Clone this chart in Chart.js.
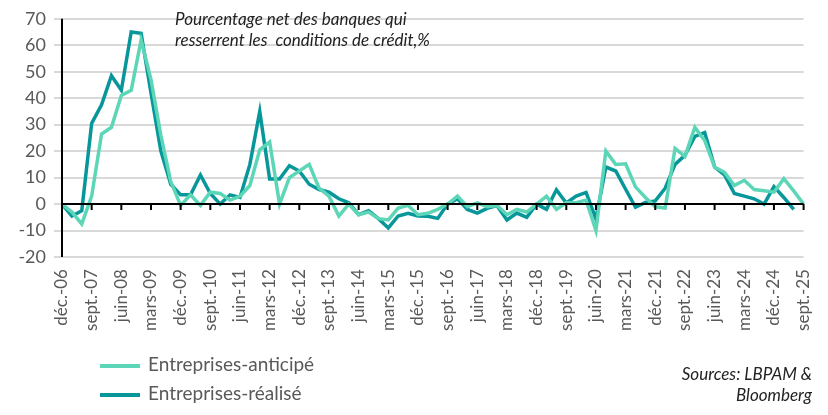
<!DOCTYPE html>
<html><head><meta charset="utf-8">
<script src="https://cdn.jsdelivr.net/npm/chart.js@4"></script>
<style>
body{margin:0;background:#fff;font-family:Lato,"Open Sans",sans-serif}
#w{position:relative;width:828px;height:415px}
.t{position:absolute;font-style:italic;color:#222;font-size:17px;line-height:21px}
.lg{position:absolute;left:100px;font-size:19px;color:#595959}
.lg span{display:inline-block;width:40px;height:4px;vertical-align:middle;margin-right:8px}
</style></head><body>
<div id="w"><canvas id="c" width="828" height="415"></canvas>
<div class="t" style="left:175px;top:8px">Pourcentage net des banques qui<br>resserrent les &nbsp;conditions de crédit,%</div>
<div class="lg" style="top:352px"><span style="background:#5DD6B8"></span>Entreprises-anticipé</div>
<div class="lg" style="top:381px"><span style="background:#07969A"></span>Entreprises-réalisé</div>
<div class="t" style="right:16px;top:363px;text-align:right">Sources: LBPAM &amp;<br>Bloomberg</div>
</div>
<script>
const months=["mars","juin","sept.","déc."];
const categories=[];
for(let i=0;i<76;i++){const q=(3+i)%4;const y=2006+Math.floor((3+i)/4);categories.push(months[q]+"-"+String(y%100).padStart(2,"0"));}
const anticipe=[0,-3,-7.5,3,26.5,29,41,43,62,47,26,8.5,-0.5,3.5,-0.5,4.5,4,1.5,3,7,20.5,23.5,0,10,12.5,15,6,3,-4.5,0,-4,-3,-5.5,-6,-1.5,-0.5,-4,-3.5,-2,0,3,-1,0.5,-1,-0.5,-4,-2,-3,0,3,-2,0.5,0.5,1.5,-10,20,15,15.2,6.5,2.5,-1,-1.5,21,18,29,24,14,12,7,9,5.5,5,4.5,9.6,5,0];
const realise=[0,-4.5,-2.5,30.5,37.5,48.5,43,65,64.5,42,20,7.5,3.5,3.5,11,4,0,3.5,2.5,15,35,9.5,9.5,14.5,12.5,7.5,5.5,4.5,2,0.5,-4,-2.5,-5.5,-9,-4.5,-3.5,-4.5,-4.6,-5.4,0,2,-2,-3.4,-1.6,-0.6,-6,-3.4,-5,0,-2,5.4,0.4,3,4.4,-5.6,14,12.5,5.6,-1.2,0.6,1.2,6,15,18.4,25.6,27,14,11,4,3,2,0,6.6,2.5,-2,null];
const zeroAxis={id:'z',afterDatasetsDraw(ch){const {ctx,scales:{x,y}}=ch;const y0=y.getPixelForValue(0);ctx.save();ctx.strokeStyle='#000';ctx.lineWidth=2;ctx.beginPath();ctx.moveTo(x.left,y0);ctx.lineTo(x.right,y0);for(let i=0;i<categories.length;i+=3){const px=x.getPixelForValue(i);ctx.moveTo(px,y0);ctx.lineTo(px,y0+6);}ctx.moveTo(x.left,y.top);ctx.lineTo(x.left,y.bottom);ctx.stroke();ctx.restore();}};
new Chart(document.getElementById('c'),{type:'line',
data:{labels:categories,datasets:[
{data:anticipe,borderColor:'#5DD6B8',borderWidth:3.5,pointRadius:0,tension:0},
{data:realise,borderColor:'#07969A',borderWidth:3.5,pointRadius:0,tension:0}]},
options:{responsive:false,animation:false,plugins:{legend:{display:false},tooltip:{enabled:false}},
layout:{padding:{left:0,right:4,top:18,bottom:80}},
scales:{x:{offset:false,grid:{display:false},border:{display:false},ticks:{autoSkip:false,maxRotation:90,minRotation:90,color:'#595959',font:{size:17,family:'Lato'},padding:4,callback:(v,i)=>i%3===0?categories[i]:''}},
y:{min:-20,max:70,afterFit(s){s.width=62;},grid:{color:'#d9d9d9',lineWidth:2},border:{display:false},ticks:{stepSize:10,color:'#595959',font:{size:18,family:'Lato'},padding:8}}}},
plugins:[zeroAxis]});
</script></body></html>
